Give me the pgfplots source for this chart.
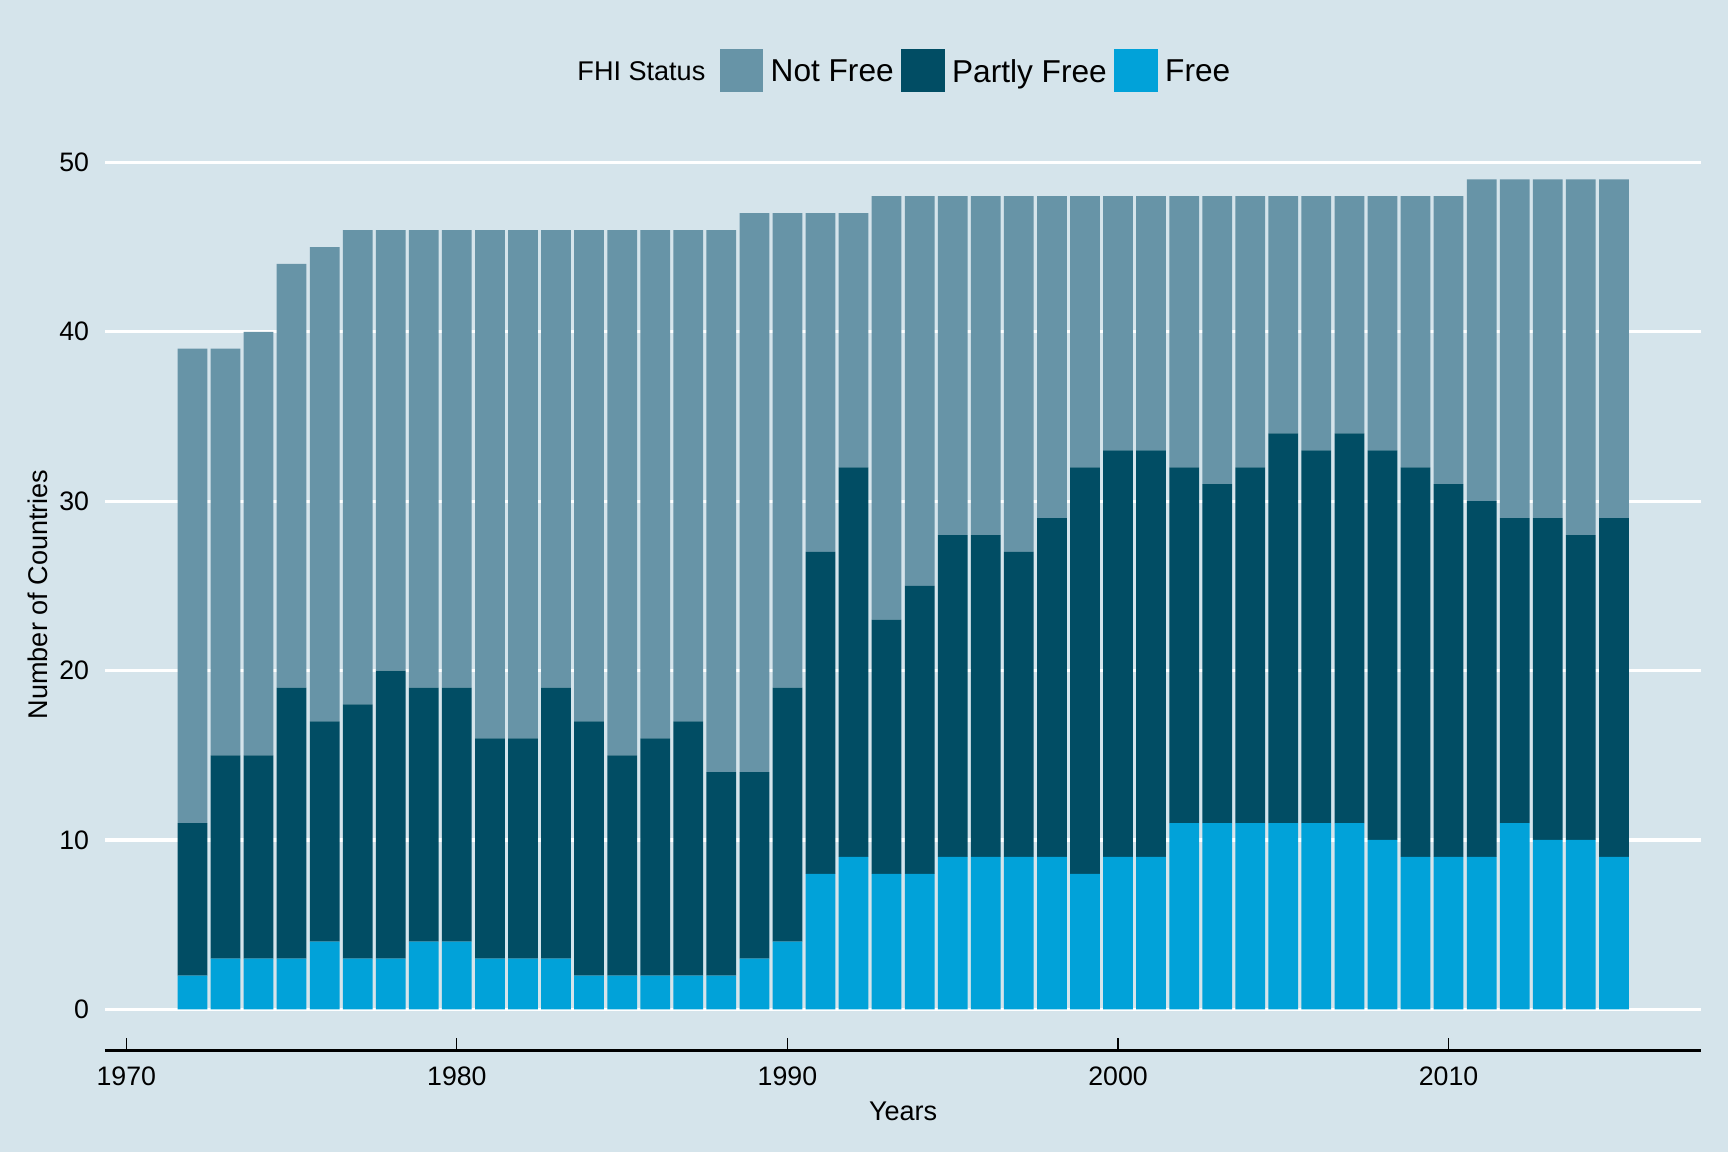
\documentclass[border=0pt]{standalone}
\usepackage{pgfplots}
\usepackage{pgfplotstable}
\pgfplotsset{compat=1.18}
\usepackage{fontspec}
\setmainfont{Liberation Sans}

\definecolor{bgc}{HTML}{D5E4EB}
\definecolor{nfree}{HTML}{6794A7}
\definecolor{pfree}{HTML}{014D64}
\definecolor{free}{HTML}{01A2D9}

% countries per FHI status and year
\pgfplotstableread{
year free partly notfree
1972 2 9 28
1973 3 12 24
1974 3 12 25
1975 3 16 25
1976 4 13 28
1977 3 15 28
1978 3 17 26
1979 4 15 27
1980 4 15 27
1981 3 13 30
1982 3 13 30
1983 3 16 27
1984 2 15 29
1985 2 13 31
1986 2 14 30
1987 2 15 29
1988 2 12 32
1989 3 11 33
1990 4 15 28
1991 8 19 20
1992 9 23 15
1993 8 15 25
1994 8 17 23
1995 9 19 20
1996 9 19 20
1997 9 18 21
1998 9 20 19
1999 8 24 16
2000 9 24 15
2001 9 24 15
2002 11 21 16
2003 11 20 17
2004 11 21 16
2005 11 23 14
2006 11 22 15
2007 11 23 14
2008 10 23 15
2009 9 23 16
2010 9 22 17
2011 9 21 19
2012 11 18 20
2013 10 19 20
2014 10 18 21
2015 9 20 20
}\fhi

\begin{document}
\begin{tikzpicture}
\fill[bgc] (0,0) rectangle (172.8mm,115.2mm);
\begin{axis}[
	name=ax,
	at={(10.48mm,10.11mm)},anchor=south west,
	scale only axis,width=159.67mm,height=91.31mm,
	ybar stacked,
	bar width=0.9,
	xmin=1969.35,xmax=2017.65,
	ymin=-2.45,ymax=51.45,
	xtick={1970,1980,1990,2000,2010},
	ytick={0,10,20,30,40,50},
	scaled x ticks=false,
	/pgf/number format/assume math mode=true,
	/pgf/number format/1000 sep={},
	axis x line*=bottom,axis y line*=left,
	y axis line style={draw=none},
	x axis line style={black,line width=0.28mm},
	xtick align=inside,
	major tick length=1.3mm,
	xtick style={black,line width=0.35pt},
	ytick style={draw=none},
	ymajorgrids,
	grid style={white,line width=0.33mm},
	tick label style={font=\fontsize{7.6}{9}\selectfont,black},
	yticklabel style={anchor=east,inner sep=0pt,xshift=-1.5mm},
	xticklabel style={anchor=north,inner sep=0pt,yshift=-1.5mm},
	label style={font=\fontsize{7.7}{9}\selectfont},
	xlabel={Years},
	xlabel style={at={(axis description cs:0.5,-0.0657)},anchor=center},
	ylabel={Number of Countries},
	ylabel style={at={(axis description cs:-0.0418,0.5)},anchor=center},
	legend style={at={(axis description cs:0.3847,1.0736)},anchor=west,
		draw=none,fill=none,inner sep=0pt,legend columns=-1,
		nodes={inner sep=0pt,text depth=0pt,font=\fontsize{9}{10}\selectfont},
		/tikz/column sep=0.75mm},
	legend image code/.code={\fill[#1] (0mm,-2.1mm) rectangle (4.2mm,2.1mm);},
	]
	\addplot[fill=free,draw=none,forget plot] table[x=year,y=free] {\fhi};
	\addplot[fill=pfree,draw=none,forget plot] table[x=year,y=partly] {\fhi};
	\addplot[fill=nfree,draw=none,forget plot] table[x=year,y=notfree] {\fhi};
	\addlegendimage{nfree}
	\addlegendentry{Not Free}
	\addlegendimage{pfree}
	\addlegendentry{Partly Free}
	\addlegendimage{free}
	\addlegendentry{Free}
\end{axis}
\node[anchor=east,inner sep=0pt,text depth=0pt,font=\fontsize{7.7}{9}\selectfont,
	xshift=60.12mm,yshift=6.72mm] at (ax.north west) {FHI Status};
\pgfresetboundingbox
\path (0,0) rectangle (172.8mm,115.2mm);
\end{tikzpicture}
\end{document}
